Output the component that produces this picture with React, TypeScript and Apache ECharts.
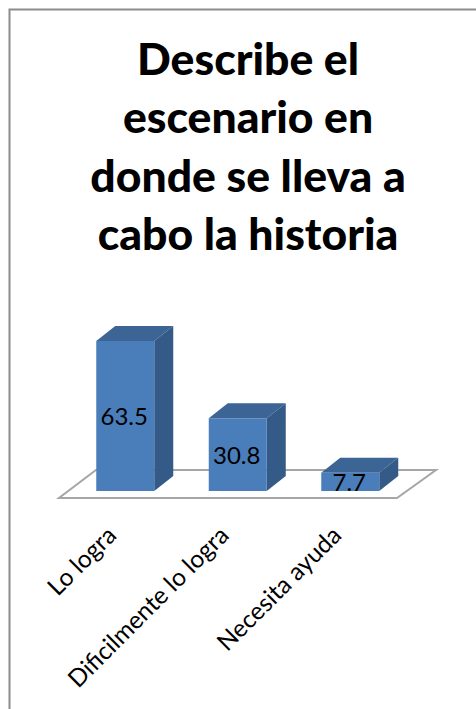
import React, { useEffect, useRef } from "react";
import * as echarts from "echarts";

const categories = ["Lo logra", "Dificilmente lo logra", "Necesita ayuda"];
const values = [63.5, 30.8, 7.7];
const titleText = "Describe el\nescenario en\ndonde se lleva a\ncabo la historia";

export default function App() {
  const ref = useRef<HTMLDivElement>(null);
  useEffect(() => {
    document.body.style.margin = "0";
    document.body.style.overflow = "hidden";
    const chart = echarts.init(ref.current!, undefined, { renderer: "svg" });
    const barW = 58, dx = 19, dy = 15;
    chart.setOption({
      animation: false,
      backgroundColor: "#ffffff",
      title: {
        text: titleText,
        left: 243,
        top: 23,
        textAlign: "center",
        textStyle: { fontFamily: "Lato", fontWeight: 900, fontSize: 44.5, lineHeight: 58.5, color: "#000000" },
      },
      grid: { left: 69, top: 325.6, width: 337.5, height: 165.4 },
      xAxis: {
        type: "category",
        data: categories,
        axisLine: { show: false },
        axisTick: { show: false },
        axisLabel: { rotate: 45, interval: 0, margin: 25, verticalAlign: "middle", padding: [0, 20, 0, 0], fontFamily: "Lato", fontSize: 24.5, color: "#000000" },
      },
      yAxis: { type: "value", min: 0, max: 70, show: false },
      graphic: [
        { type: "rect", z: 0, shape: { x: 9.5, y: 9.5, width: 520, height: 760 }, style: { fill: "none", stroke: "#8c8c8c", lineWidth: 2 } },
        { type: "polygon", z: 0, shape: { points: [[59, 498], [397, 498], [436, 470], [96, 470]] }, style: { fill: "#ffffff", stroke: "#a6a6a6", lineWidth: 2 } },
      ],
      series: [
        {
          type: "custom",
          z: 5,
          clip: false,
          data: values.map((v, i) => [i, v]),
          encode: { x: 0, y: 1 },
          renderItem: (_p: any, api: any) => {
            const top = api.coord([api.value(0), api.value(1)]);
            const base = api.coord([api.value(0), 0]);
            const x0 = top[0] - barW / 2, x1 = top[0] + barW / 2;
            const yT = top[1], yB = base[1];
            return {
              type: "group",
              children: [
                { type: "polygon", shape: { points: [[x0, yT], [x1, yT], [x1 + dx, yT - dy], [x0 + dx, yT - dy]] }, style: { fill: "#3c6494" } },
                { type: "polygon", shape: { points: [[x1, yT], [x1 + dx, yT - dy], [x1 + dx, yB - dy], [x1, yB]] }, style: { fill: "#345a88" } },
                { type: "rect", shape: { x: x0, y: yT, width: barW, height: yB - yT }, style: { fill: "#4a7ebb" } },
                {
                  type: "text",
                  x: top[0] - 1,
                  y: (yT + yB) / 2,
                  style: { text: String(api.value(1)), align: "center", verticalAlign: "middle", fontFamily: "Lato", fontSize: 24, fill: "#000000" },
                },
              ],
            };
          },
        },
      ],
    });
    return () => chart.dispose();
  }, []);
  return <div ref={ref} style={{ width: 476, height: 709 }} />;
}
